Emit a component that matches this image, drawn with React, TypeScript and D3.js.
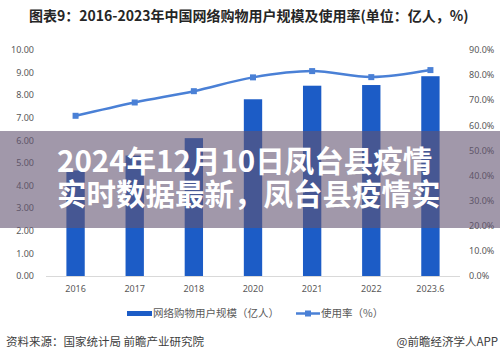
import * as d3 from "d3";

const categories = ["2016", "2017", "2018", "2020", "2021", "2022", "2023.6"];
const users = [4.67, 5.33, 6.1, 7.82, 8.42, 8.45, 8.84];
const usageRate = [63.8, 69.1, 73.6, 79.1, 81.6, 79.2, 82.0];
const leftTicks = [0, 1, 2, 3, 4, 5, 6, 7, 8, 9, 10];
const rightTicks = [0, 10, 20, 30, 40, 50, 60, 70, 80, 90];
const bannerLines = ["2024年12月10日凤台县疫情", "实时数据最新，凤台县疫情实"];

const W = 500;
const H = 360;
const CJK = "'Noto Sans CJK SC', 'Noto Sans', sans-serif";
const BAR = "#1c5cc6";
const LINE = "#4a80d6";

export default function App() {
  const x = d3.scaleBand<string>().domain(categories).range([46, 460]).paddingInner(0.69).paddingOuter(0.345);
  const yL = d3.scaleLinear().domain([0, 10]).range([276, 50]);
  const yR = d3.scaleLinear().domain([0, 90]).range([276, 50]);

  const cx = (c: string) => (x(c) ?? 0) + x.bandwidth() / 2;
  const linePts = categories.map((c, i) => [cx(c), yR(usageRate[i])] as [number, number]);
  const linePath = d3.line().curve(d3.curveCatmullRom.alpha(0.5))(linePts) ?? "";

  return (
    <svg
      width={W}
      height={H}
      style={{ position: "absolute", left: 0, top: 0, background: "#fff" }}
      fontFamily={CJK}
    >
      <rect width={W} height={H} fill="#fff" />

      {/* title */}
      <text x={29} y={21} fontSize={14} fontWeight={700} fill="#262626">
        图表9：2016-2023年中国网络购物用户规模及使用率(单位：亿人，%)
      </text>

      {/* left axis labels */}
      {leftTicks.map((t) => (
        <text key={"l" + t} x={34} y={yL(t) + 3.2} fontSize={9} textAnchor="end" fill="#595959" fontFamily="'Noto Sans', sans-serif">
          {t.toFixed(2)}
        </text>
      ))}

      {/* right axis labels */}
      {rightTicks.map((t) => (
        <text key={"r" + t} x={469} y={yR(t) + 3.2} fontSize={9} fill="#595959" fontFamily="'Noto Sans', sans-serif">
          {t.toFixed(1) + "%"}
        </text>
      ))}

      {/* bars */}
      {categories.map((c, i) => (
        <rect key={c} x={x(c)} y={yL(users[i])} width={x.bandwidth()} height={yL(0) - yL(users[i])} fill={BAR} />
      ))}

      {/* x axis */}
      <line x1={46} x2={460} y1={276.5} y2={276.5} stroke="#d9d9d9" strokeWidth={1} />
      {categories.map((c) => (
        <text key={"x" + c} x={cx(c)} y={292} fontSize={9} textAnchor="middle" fill="#595959" fontFamily="'Noto Sans', sans-serif">
          {c}
        </text>
      ))}

      {/* usage rate line */}
      <path d={linePath} fill="none" stroke={LINE} strokeWidth={2.5} />
      {linePts.map(([px, py], i) => (
        <rect key={"m" + i} x={px - 3} y={py - 3} width={6} height={6} fill={LINE} />
      ))}

      {/* legend */}
      <rect x={127} y={311} width={25} height={5} fill={BAR} />
      <text x={153} y={317} fontSize={10.5} fill="#595959">
        网络购物用户规模（亿人）
      </text>
      <line x1={296} x2={320} y1={313.5} y2={313.5} stroke={LINE} strokeWidth={2.5} />
      <rect x={305} y={310.5} width={6} height={6} fill={LINE} />
      <text x={321} y={317} fontSize={10.5} fill="#595959">
        使用率（%）
      </text>

      {/* footer */}
      <text x={6} y={346} fontSize={11.5} fill="#404040">
        资料来源：国家统计局 前瞻产业研究院
      </text>
      <text x={498} y={346} fontSize={11.5} textAnchor="end" fill="#404040">
        @前瞻经济学人APP
      </text>

      {/* overlay banner, one text block with two lines */}
      <rect x={0} y={131} width={W} height={97} fill="rgb(98,84,114)" fillOpacity={0.6} />
      <text x={57} y={172} fontSize={29.5} fontWeight={700} fill="#fff">
        {bannerLines.map((s, i) => (
          <tspan key={i} x={57} dy={i === 0 ? 0 : 33}>
            {s}
          </tspan>
        ))}
      </text>
    </svg>
  );
}
